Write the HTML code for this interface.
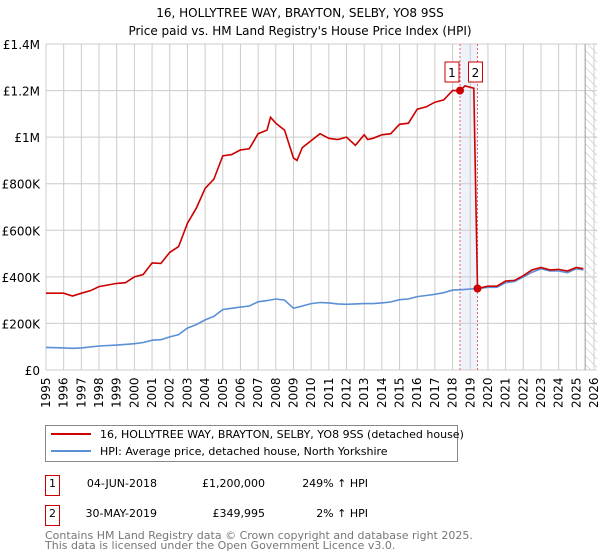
<!DOCTYPE html>
<html><head><meta charset="utf-8"><style>
body{margin:0;background:#fff;font-family:"DejaVu Sans","Liberation Sans",sans-serif;}
svg{display:block}
</style></head><body>
<svg id="c" width="600" height="560" xmlns="http://www.w3.org/2000/svg" font-family="DejaVu Sans, Liberation Sans, sans-serif"></svg>
<script>
const hpiYears=[1995,1996,1996.5,1997,1998,1999,2000,2000.5,2001,2001.5,2002,2002.5,2003,2003.5,2004,2004.5,2005,2005.5,2006,2006.5,2007,2007.5,2008,2008.5,2009,2009.5,2010,2010.5,2011,2011.5,2012,2012.5,2013,2013.5,2014,2014.5,2015,2015.5,2016,2016.5,2017,2017.5,2018,2018.5,2019,2019.5,2020,2020.5,2021,2021.5,2022,2022.5,2023,2023.5,2024,2024.5,2025,2025.4];
const hpiValues=[97,95,93,95,103,107,113,118,128,130,142,152,180,195,215,230,260,265,270,275,293,298,305,300,265,275,285,290,288,284,282,284,285,285,288,292,302,305,315,320,325,332,343,345,348,350,355,355,375,380,400,420,435,425,425,418,435,430];
const redYears=[1995,1996,1996.5,1997,1997.5,1998,1999,1999.5,2000,2000.5,2001,2001.5,2002,2002.5,2003,2003.5,2004,2004.5,2005,2005.5,2006,2006.5,2007,2007.5,2007.7,2008,2008.5,2009,2009.2,2009.5,2010,2010.5,2011,2011.5,2012,2012.5,2013,2013.2,2013.5,2014,2014.5,2015,2015.5,2016,2016.5,2017,2017.5,2018,2018.42,2018.7,2019.2,2019.41,2020,2020.5,2021,2021.5,2022,2022.5,2023,2023.5,2024,2024.5,2025,2025.4];
const redValues=[330,330,318,330,340,358,372,375,400,410,460,458,505,530,630,695,780,820,920,925,945,950,1015,1030,1085,1060,1030,910,900,955,985,1015,995,990,1000,965,1010,990,995,1010,1015,1055,1060,1120,1130,1150,1160,1200,1200,1220,1210,349.995,360,360,382,385,405,430,440,430,432,425,440,435];
const saleYears=[2018.42,2019.41];
const saleValues=[1200,349.995];
const yTicks=[0,200,400,600,800,1000,1200,1400];
const yTickLabels=["£0","£200K","£400K","£600K","£800K","£1M","£1.2M","£1.4M"];
const NS="http://www.w3.org/2000/svg";
const svg=document.getElementById('c');
const X0=46,X1=594,Y0=370,Y1=44;
const xs=y=>X0+(y-1995)/31*(X1-X0);
const ys=v=>Y0-v/1400*(Y0-Y1);
function mk(t,a,p){const e=document.createElementNS(NS,t);for(const k in a)e.setAttribute(k,a[k]);(p||svg).appendChild(e);return e;}
function tx(x,y,s,a,name){const e=mk('text',Object.assign({x:x,y:y,'font-size':12,fill:'#000'},a||{}));e.textContent=s;


return e;}
tx(300,17,"16, HOLLYTREE WAY, BRAYTON, SELBY, YO8 9SS",{'text-anchor':'middle','font-size':12},'chart-title');
tx(300,35,"Price paid vs. HM Land Registry's House Price Index (HPI)",{'text-anchor':'middle','font-size':12},'chart-subtitle');
const band=mk('rect',{x:xs(saleYears[0]),y:Y1,width:xs(saleYears[1])-xs(saleYears[0]),height:Y0-Y1,fill:'#eef2fb'});


const defs=mk('defs',{});
const pat=mk('pattern',{id:'h',width:6,height:6,patternUnits:'userSpaceOnUse',patternTransform:'rotate(-45)'},defs);
mk('line',{x1:0,y1:0,x2:0,y2:6,stroke:'#bbb','stroke-width':1},pat);
const hatch=mk('rect',{x:xs(2025.5),y:Y1,width:X1-xs(2025.5)+3,height:Y0-Y1,fill:'url(#h)'});


for(let yr=1995;yr<=2026;yr++){const x=xs(yr);mk('line',{x1:x,y1:Y1,x2:x,y2:Y0,stroke:'#ccc','stroke-width':1});
tx(0,0,String(yr),{transform:`translate(${x+4},${Y0+38}) rotate(-90)`,'font-size':12},'x-tick-label');}
yTicks.forEach((v,i)=>{const y=ys(v);mk('line',{x1:X0,y1:y,x2:X1+3,y2:y,stroke:'#ccc','stroke-width':1});
tx(X0-6,y+5,yTickLabels[i],{'text-anchor':'end','font-size':12},'y-tick-label');});
mk('line',{x1:xs(2025.5),y1:Y1,x2:xs(2025.5),y2:Y0,stroke:'#999','stroke-width':1});
saleYears.forEach(s=>mk('line',{x1:xs(s),y1:Y1,x2:xs(s),y2:Y0,stroke:'#f06060','stroke-width':1,'stroke-dasharray':'2,2'}));
function path(xa,va){return xa.map((y,i)=>(i?'L':'M')+xs(y).toFixed(1)+','+ys(va[i]).toFixed(1)).join('');}
const hp=mk('path',{d:path(hpiYears,hpiValues),fill:'none',stroke:'#5b8fd6','stroke-width':1.6});


const rp=mk('path',{d:path(redYears,redValues),fill:'none',stroke:'#cc0000','stroke-width':1.6});


saleYears.forEach((s,i)=>{const c=mk('circle',{cx:xs(s),cy:ys(saleValues[i]),r:4,fill:'#cc0000'});


const bx=i==0?xs(s)-15:xs(s)-9;
const r=mk('rect',{x:bx,y:62,width:14,height:20,fill:'#fff',stroke:'#cc0000','stroke-width':1});


tx(bx+7,77,String(i+1),{'text-anchor':'middle','font-size':12},'sale-marker-label');});
const lg=mk('rect',{x:45.5,y:425.5,width:412,height:36,fill:'#fff',stroke:'#888','stroke-width':1});


mk('line',{x1:51,y1:434,x2:91,y2:434,stroke:'#cc0000','stroke-width':2});
tx(100,438,"16, HOLLYTREE WAY, BRAYTON, SELBY, YO8 9SS (detached house)",{'font-size':11},'legend-entry-price');
mk('line',{x1:51,y1:451,x2:91,y2:451,stroke:'#5b8fd6','stroke-width':2});
tx(100,455,"HPI: Average price, detached house, North Yorkshire",{'font-size':11},'legend-entry-hpi');
const rows=[["1","04-JUN-2018","£1,200,000","249% ↑ HPI"],["2","30-MAY-2019","£349,995","2% ↑ HPI"]];
rows.forEach((r,i)=>{const y=i?517:487;
const b=mk('rect',{x:45.5,y:y-11.5,width:14,height:20,fill:'#fff',stroke:'#cc0000','stroke-width':1});


tx(52.5,y,r[0],{'text-anchor':'middle','font-size':11},'table-index');
tx(157,y,r[1],{'text-anchor':'end','font-size':11},'table-date');
tx(265,y,r[2],{'text-anchor':'end','font-size':11},'table-price');
tx(368,y,r[3],{'text-anchor':'end','font-size':11},'table-hpi-change');});
tx(45,539,"Contains HM Land Registry data © Crown copyright and database right 2025.",{'font-size':11,fill:'#777'},'footer-line-1');
tx(45,549,"This data is licensed under the Open Government Licence v3.0.",{'font-size':11,fill:'#777'},'footer-line-2');
</script>
</body></html>
